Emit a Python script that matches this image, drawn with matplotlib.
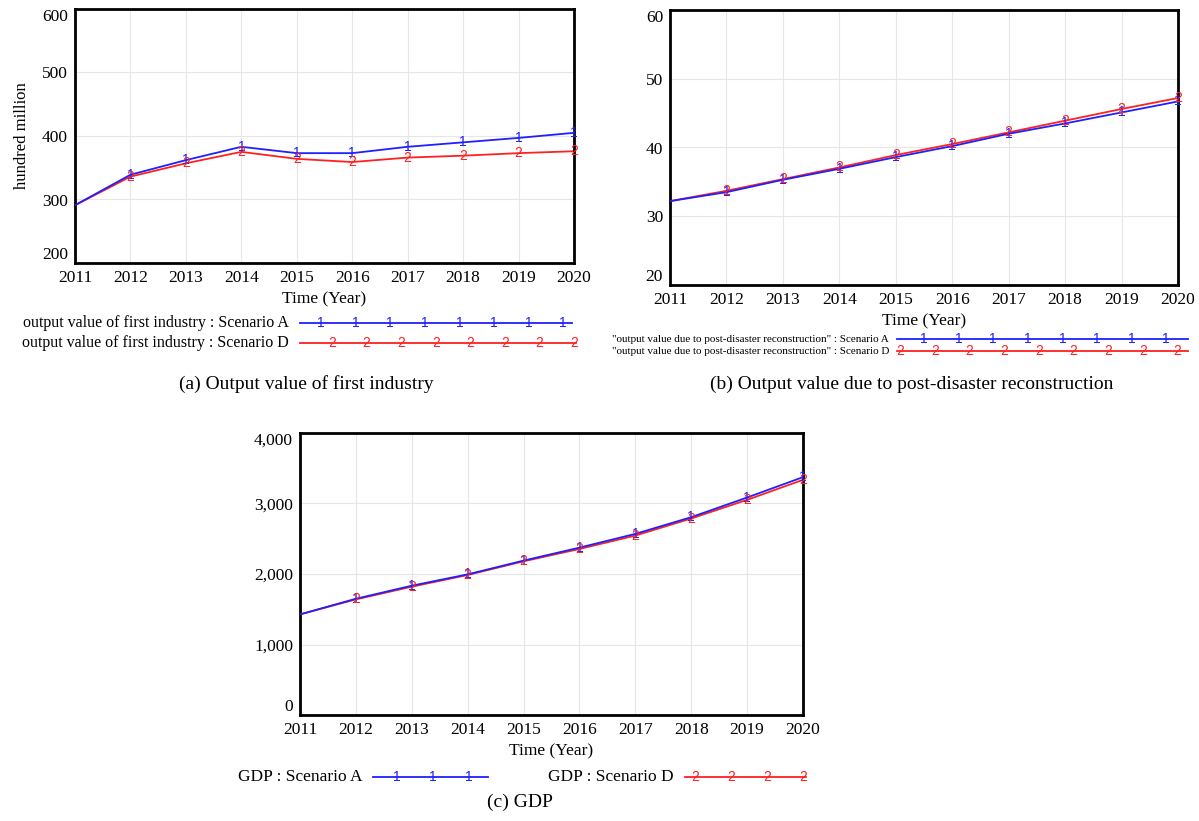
import matplotlib
matplotlib.use('Agg')
import matplotlib.pyplot as plt
from matplotlib.lines import Line2D
from matplotlib.ticker import FuncFormatter

plt.rcParams['font.family'] = ['Liberation Serif', 'DejaVu Serif']

years = [2011, 2012, 2013, 2014, 2015, 2016, 2017, 2018, 2019, 2020]

# first industry output (hundred million)
first_a = [291, 339, 362, 383, 373, 373, 383, 390, 397, 405]
first_d = [291, 336, 357, 375, 364, 359, 366, 369, 373, 376]

# output value due to post-disaster reconstruction
recon_a = [32.2, 33.5, 35.3, 36.9, 38.6, 40.2, 42.0, 43.5, 45.1, 46.7]
recon_d = [32.2, 33.7, 35.4, 37.1, 38.9, 40.5, 42.2, 43.9, 45.6, 47.2]

# GDP
gdp_a = [1427, 1649, 1834, 1995, 2190, 2374, 2569, 2806, 3085, 3374]
gdp_d = [1427, 1640, 1820, 1986, 2180, 2355, 2545, 2787, 3052, 3336]

W, H = 1199, 821
fig = plt.figure(figsize=(W / 100, H / 100), dpi=100)

BLUE = '#1f1fff'
RED = '#ff2020'


def box(l, t, r, b):
    # pixel box -> figure fraction rect
    return [l / W, 1 - b / H, (r - l) / W, (b - t) / H]


def fx(x):
    return x / W


def fy(y):
    return 1 - y / H


def panel(rect, ya, yd, ylim, yticks, fmt=None, ylabel=None):
    ax = fig.add_axes(rect)
    ax.plot(years, ya, color=BLUE, lw=1.3, zorder=3)
    ax.plot(years, yd, color=RED, lw=1.3, zorder=2)
    # digit markers, Vensim style
    for x, v in zip(years[1:], ya[1:]):
        ax.text(x, v, '1', color=BLUE, fontsize=10, family='Liberation Sans',
                ha='center', va='center', zorder=4)
    for x, v in zip(years[1:], yd[1:]):
        ax.text(x, v, '2', color=RED, fontsize=10, family='Liberation Sans',
                ha='center', va='center', zorder=4)
    ax.set_xlim(years[0], years[-1])
    ax.set_ylim(*ylim)
    ax.set_xticks(years)
    ax.set_yticks(yticks)
    if fmt:
        ax.yaxis.set_major_formatter(FuncFormatter(fmt))
    ax.tick_params(length=0, labelsize=12.5, pad=5)
    ax.tick_params(axis='x', pad=5)
    ax.grid(True, color='#e6e6e6', lw=0.8)
    for s in ax.spines.values():
        s.set_linewidth(2)
    # top / bottom y labels pulled inside the axis range
    labs = ax.get_yticklabels()
    labs[0].set_va('bottom')
    labs[-1].set_va('top')
    ax.set_xlabel('Time (Year)', fontsize=12.5, labelpad=4)
    if ylabel:
        ax.set_ylabel(ylabel, fontsize=12, labelpad=9)
    return ax


def legend_row(y, tx, text, x0, x1, marks, color, digit, fs):
    fig.text(fx(tx), fy(y), text, fontsize=fs, ha='right', va='center')
    fig.add_artist(Line2D([fx(x0), fx(x1)], [fy(y), fy(y)], color=color, lw=1.3))
    for m in marks:
        fig.text(fx(m), fy(y), digit, color=color, fontsize=10,
                 family='Liberation Sans', ha='center', va='center')


# (a)
panel(box(75, 9, 574, 263), first_a, first_d, (200, 600),
      [200, 300, 400, 500, 600], ylabel='hundred million')
legend_row(323, 289, 'output value of first industry : Scenario A', 300, 572,
           [321 + 34.6 * i for i in range(8)], BLUE, '1', 11.5)
legend_row(343, 289, 'output value of first industry : Scenario D', 300, 576,
           [332 + 34.6 * i for i in range(8)], RED, '2', 11.5)
fig.text(fx(306), fy(384), '(a) Output value of first industry',
         fontsize=14, ha='center', va='center')

# (b)
panel(box(670, 10, 1178, 285), recon_a, recon_d, (20, 60), [20, 30, 40, 50, 60])
legend_row(339, 889, '"output value due to post-disaster reconstruction" : Scenario A',
           897, 1188, [924 + 34.6 * i for i in range(8)], BLUE, '1', 8)
legend_row(351, 889, '"output value due to post-disaster reconstruction" : Scenario D',
           897, 1188, [900 + 34.7 * i for i in range(9)], RED, '2', 8)
fig.text(fx(912), fy(384), '(b) Output value due to post-disaster reconstruction',
         fontsize=14, ha='center', va='center')

# (c)
panel(box(300, 433, 803, 715), gdp_a, gdp_d, (0, 4000),
      [0, 1000, 2000, 3000, 4000], fmt=lambda v, p: f'{int(v):,}')
legend_row(777, 362, 'GDP : Scenario A', 373, 488, [397, 433, 469], BLUE, '1', 12.5)
legend_row(777, 674, 'GDP : Scenario D', 685, 806, [695, 731, 767, 803], RED, '2', 12.5)
fig.text(fx(520), fy(802), '(c) GDP', fontsize=14, ha='center', va='center')

fig.savefig('out.png', dpi=100)
